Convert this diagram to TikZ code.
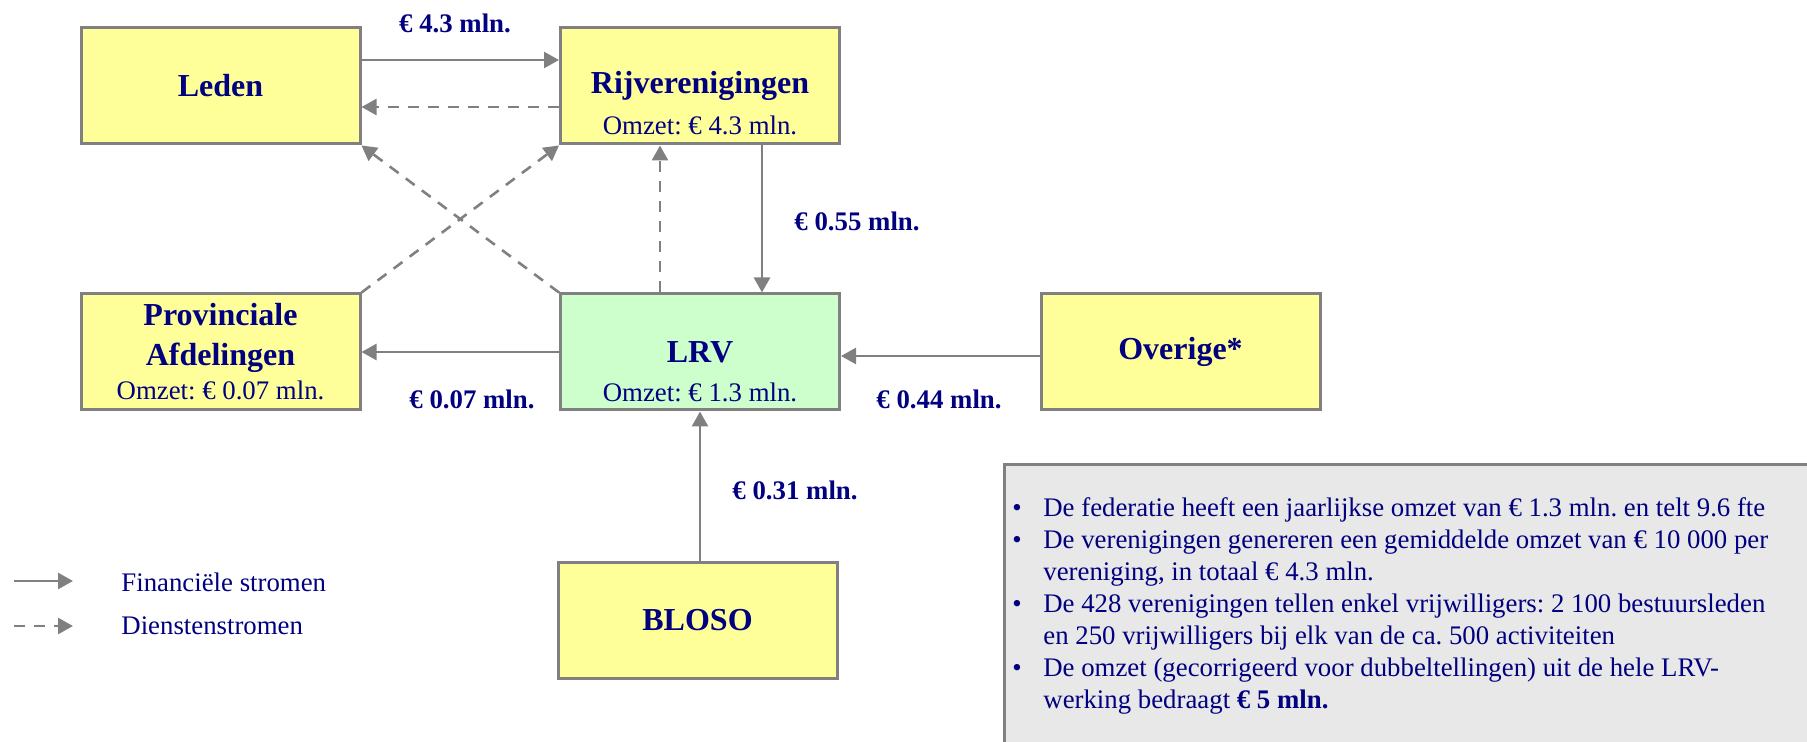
\documentclass[tikz,border=0pt]{standalone}
\usepackage{fontspec}
\setmainfont{Liberation Serif}
\frenchspacing
\usepackage{xcolor}
\definecolor{navy}{HTML}{000080}
\definecolor{paleyellow}{HTML}{FFFF99}
\definecolor{palegreen}{HTML}{CCFFCC}
\definecolor{linegray}{HTML}{808080}
\definecolor{infogray}{HTML}{E8E8E8}
\usepackage{tikz}
\usetikzlibrary{arrows.meta,positioning}
\tikzset{
  >={Triangle[length=7.5pt,width=8pt]},
  orgbox/.style ={draw=linegray,line width=1.5pt,fill=paleyellow,
                  minimum width=139.5pt,minimum height=58pt,inner sep=0pt,
                  align=center,text=navy,font=\fontsize{16}{20}\selectfont\bfseries},
  lrvbox/.style ={orgbox,fill=palegreen},
  txt/.style    ={text=navy,font=\fontsize{13.4}{16}\selectfont,inner sep=0pt},
  geld/.style   ={text=navy,font=\fontsize{13.4}{16}\selectfont\bfseries,inner sep=0pt},
  fin/.style    ={->,draw=linegray,line width=1.3pt},
  dienst/.style ={->,draw=linegray,line width=1.3pt,dash pattern=on 5.5pt off 4.5pt},
}

\begin{document}
\begin{tikzpicture}[x=0.5pt,y=-0.5pt]
\useasboundingbox (0,0) rectangle (1807,742);
% organisaties
\node[orgbox] (leden) at (220.5,86) {Leden};
\node[orgbox] (rij) at (700,86) {Rijverenigingen};
\node[orgbox] (prov) at (220.5,352)
 {Provinciale\\Afdelingen\\[-3pt]{\mdseries\fontsize{13.4}{16}\selectfont Omzet: € 0.07 mln.}};
\node[lrvbox] (lrv) at (700,352) {LRV};
\node[orgbox] (overige) at (1180.5,352) {Overige*};
\node[orgbox] (bloso) at (697.5,620) {BLOSO};
\node[txt] (rijomzet) at (700,125) {Omzet: € 4.3 mln.};
\node[txt] (lrvomzet) at (700,392) {Omzet: € 1.3 mln.};
% stromen
\draw[fin] ([yshift=13pt]leden.east) -- ([yshift=13pt]rij.west);
\draw[dienst] ([yshift=-10.5pt]rij.west) -- ([yshift=-10.5pt]leden.east);
\draw[dienst] (lrv.north west) -- (leden.south east);
\draw[dienst] (prov.north east) -- (rij.south west);
\draw[dienst] ([xshift=-20pt]lrv.north) -- ([xshift=-20pt]rij.south);
\draw[fin] ([xshift=31pt]rij.south) -- ([xshift=31pt]lrv.north);
\draw[fin] (lrv.west) -- (prov.east);
\draw[fin] ([yshift=-2pt]overige.west) -- ([yshift=-2pt]lrv.east);
\draw[fin] (bloso.north -| lrv.south) -- (lrv.south);
\node[geld] (g43) at (455,23) {€ 4.3 mln.};
\node[geld] (g055) at (857,221) {€ 0.55 mln.};
\node[geld] (g007) at (472,399) {€ 0.07 mln.};
\node[geld] (g044) at (939,399) {€ 0.44 mln.};
\node[geld] (g031) at (795,490) {€ 0.31 mln.};
% legende
\coordinate (finA) at (14,581);
\coordinate (finB) at (73,581);
\coordinate (dienstA) at (14,626);
\coordinate (dienstB) at (73,626);
\draw[fin] (finA) -- (finB);
\draw[dienst] (dienstA) -- (dienstB);
\node[txt,anchor=west] (legfin) at (121,582) {Financiële stromen};
\node[txt,anchor=west] (legdienst) at (121,626) {Dienstenstromen};
% kerncijfers
\fill[infogray] (1004,464) rectangle (1807,742);
\draw[linegray,line width=1.5pt] (1004,742) -- (1004,464) -- (1807,464);
\node[txt,align=left,anchor=base west] (info) at (1012,708)
 {\makebox[15.5pt][l]{\textbullet}De federatie heeft een jaarlijkse omzet van € 1.3 mln. en telt 9.6 fte\\
  \makebox[15.5pt][l]{\textbullet}De verenigingen genereren een gemiddelde omzet van € 10 000 per\\
  \hspace*{15.5pt}vereniging, in totaal € 4.3 mln.\\
  \makebox[15.5pt][l]{\textbullet}De 428 verenigingen tellen enkel vrijwilligers: 2 100 bestuursleden\\
  \hspace*{15.5pt}en 250 vrijwilligers bij elk van de ca. 500 activiteiten\\
  \makebox[15.5pt][l]{\textbullet}De omzet (gecorrigeerd voor dubbeltellingen) uit de hele LRV-\\
  \hspace*{15.5pt}werking bedraagt \textbf{€ 5 mln.}};
\end{tikzpicture}
\end{document}
